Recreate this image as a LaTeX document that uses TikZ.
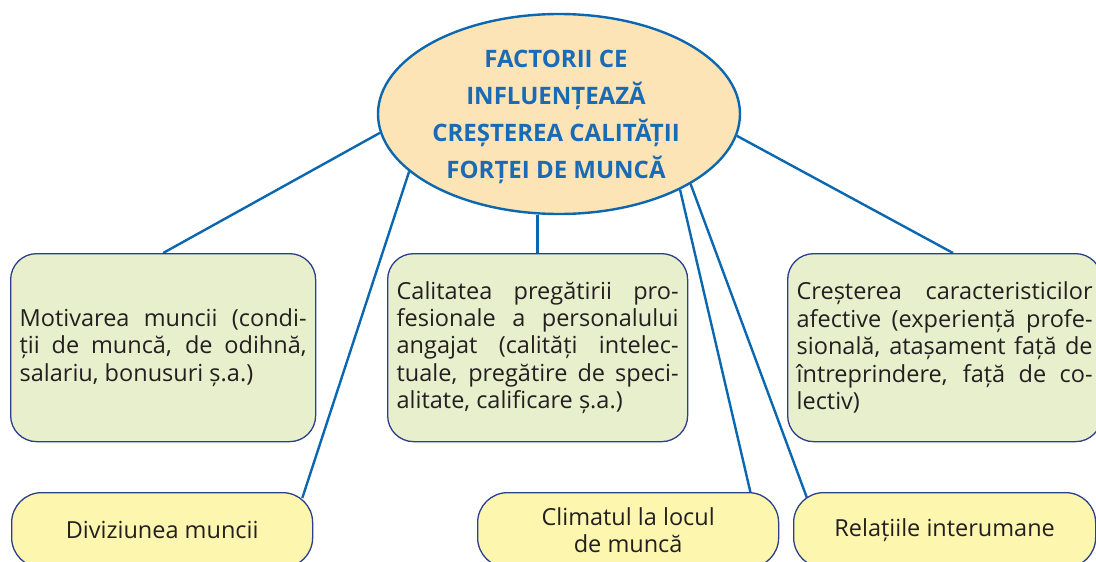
\documentclass[tikz,border=0pt]{standalone}
\usepackage{fontspec}
\setmainfont{Open Sans}
\usetikzlibrary{shapes.geometric,backgrounds,calc}
\definecolor{linkblue}{HTML}{0A67B0}
\definecolor{titleblue}{HTML}{1A6BB5}
\definecolor{ellfill}{HTML}{FCE4B6}
\definecolor{greenfill}{HTML}{E8EFCC}
\definecolor{yellowfill}{HTML}{FDF6AF}
\definecolor{boxborder}{HTML}{2C3F8C}
\definecolor{bodytext}{HTML}{231F20}
\tikzset{
  link/.style={draw=linkblue, line width=2.4pt},
  mainell/.style={ellipse, draw=linkblue, line width=2.4pt, fill=ellfill,
    minimum width=362pt, minimum height=200pt, inner sep=0pt},
  titletext/.style={align=center, text=titleblue, inner sep=0pt,
    font=\fontsize{24}{37}\selectfont\bfseries},
  greenbox/.style={rectangle, rounded corners=26pt, draw=boxborder, line width=1.3pt,
    fill=greenfill, minimum height=188pt, inner xsep=9pt, inner ysep=0pt,
    align=justify, text=bodytext, font=\fontsize{23.5}{27.4}\selectfont, anchor=north west},
  yellowbox/.style={rectangle, rounded corners=30pt, draw=boxborder, line width=1.3pt,
    fill=yellowfill, minimum height=75pt, inner sep=0pt, align=center,
    text=bodytext, font=\fontsize{23.5}{27}\selectfont, anchor=north west}
}
\begin{document}
\begin{tikzpicture}[x=1pt,y=-1pt]
\useasboundingbox (0,0) rectangle (1096,562);
\clip (0,0) rectangle (1096,562);
\node[mainell] (ell) at (559,114) {};
\node[titletext] (title) at (556,117) {FACTORII CE\\INFLUENȚEAZĂ\\CREȘTEREA CALITĂȚII\\FORȚEI DE MUNCĂ};
\node[greenbox, text width=287pt] (b1) at (10,253)
  {Motivarea muncii (condi-\linebreak ții de muncă, de odihnă,\linebreak salariu, bonusuri ș.a.)};
\node[greenbox, text width=282pt] (b2) at (387,253)
  {Calitatea pregătirii pro-\linebreak fesionale a personalului\linebreak angajat (calități intelec-\linebreak tuale, pregătire de speci-\linebreak alitate, calificare ș.a.)};
\node[greenbox, text width=296pt] (b3) at (787,253)
  {Creșterea caracteristicilor\linebreak afective (experiență profe-\linebreak sională, atașament față de\linebreak întreprindere, față de co-\linebreak lectiv)};
\node[yellowbox, minimum width=301pt] (b4) at (11,492) {Diviziunea muncii};
\node[yellowbox, minimum width=301pt] (b5) at (477,492) {Climatul la locul\\de muncă};
\node[yellowbox, minimum width=302pt] (b6) at (793,492) {Relațiile interumane};
\begin{scope}[on background layer]
\draw[link] (ell.186.8) -- (b1.north);
\draw[link] (ell.201.3) -- ([xshift=-11pt,yshift=-6pt]b4.north east);
\draw[link] (b2.north |- ell.south) -- (b2.north);
\draw[link] (ell.328.6) -- ([xshift=-28pt,yshift=-4pt]b5.north east);
\draw[link] (ell.332.9) -- ([xshift=14pt,yshift=-6pt]b6.north west);
\draw[link] (ell.353.2) -- ([xshift=166pt]b3.north west);
\end{scope}
\end{tikzpicture}
\end{document}
